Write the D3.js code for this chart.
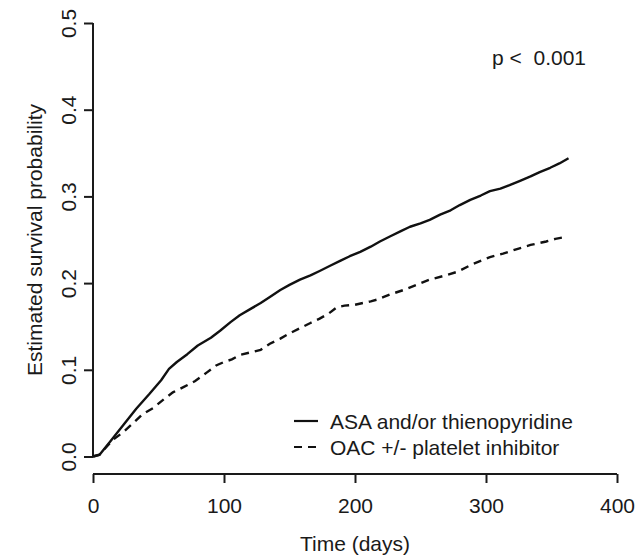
<!DOCTYPE html>
<html>
<head>
<meta charset="utf-8">
<script src="https://cdn.jsdelivr.net/npm/d3@7"></script>
<style>
  body { margin: 0; background: #fff; }
  svg text { font-family: "Liberation Sans", Arial, Helvetica, sans-serif; fill: #1a1a1a; }
</style>
</head>
<body>
<svg id="chart" width="635" height="555"></svg>
<script>
// survival curves (days, probability)
var asaDays = [0, 5, 13, 23, 33, 43, 52, 58, 64, 72, 80, 90, 97, 105, 112, 120, 128, 135, 143, 150,
  158, 166, 173, 181, 189, 196, 204, 212, 219, 227, 235, 242, 250, 257, 265, 273, 280, 288, 296, 303,
  311, 318, 326, 334, 341, 349, 356, 363];
var asaProb = [0, 0.002, 0.017, 0.036, 0.055, 0.072, 0.088, 0.101, 0.109, 0.118, 0.128, 0.137, 0.145, 0.155, 0.163, 0.170, 0.177, 0.184, 0.192, 0.198,
  0.204, 0.209, 0.214, 0.220, 0.226, 0.231, 0.236, 0.242, 0.248, 0.254, 0.260, 0.265, 0.269, 0.273, 0.279, 0.284, 0.290, 0.296, 0.301, 0.306,
  0.309, 0.313, 0.318, 0.323, 0.328, 0.333, 0.338, 0.344];

var oacDays = [0, 5, 9, 15, 23, 31, 38, 46, 54, 61, 69, 78, 87, 94, 100, 106, 112, 120, 128, 135,
  143, 150, 158, 166, 173, 180, 186, 192, 200, 206, 212, 217, 222, 227, 237, 247, 257, 267, 278, 290,
  303, 313, 323, 334, 346, 353, 360];
var oacProb = [0, 0.002, 0.009, 0.019, 0.028, 0.039, 0.049, 0.056, 0.066, 0.074, 0.080, 0.087, 0.097, 0.105, 0.109, 0.112, 0.117, 0.120, 0.123, 0.130,
  0.136, 0.142, 0.148, 0.154, 0.159, 0.165, 0.172, 0.174, 0.175, 0.177, 0.179, 0.181, 0.184, 0.187, 0.192, 0.198, 0.204, 0.208, 0.213, 0.222,
  0.230, 0.234, 0.239, 0.244, 0.248, 0.251, 0.253];

var xTicks = [0, 100, 200, 300, 400];
var yTicks = [0, 0.1, 0.2, 0.3, 0.4, 0.5];
var legendLabels = ["ASA and/or thienopyridine", "OAC +/- platelet inhibitor"];
var pText = "p <\u00a0\u00a00.001";

var svg = d3.select("#chart");
var fontSize = 21;

var x = d3.scaleLinear().domain([0, 400]).range([93, 617]);
var y = d3.scaleLinear().domain([0, 0.5]).range([456.5, 23]);

// x axis sits a bit below y=0 (R style)
var xAxis = d3.axisBottom(x).tickValues(xTicks).tickSize(9).tickPadding(15).tickFormat(d3.format("d"));
var gx = svg.append("g").attr("transform", "translate(0,474)").call(xAxis);
gx.select(".domain").attr("d", "M" + x(0) + ",0H" + x(400));

var yAxis = d3.axisLeft(y).tickValues(yTicks).tickSize(9).tickFormat(d3.format(".1f"));
var gy = svg.append("g").attr("transform", "translate(" + x(0) + ",0)").call(yAxis);
gy.select(".domain").attr("d", "M0," + y(0) + "V" + y(0.5));
gy.selectAll(".tick text")
  .attr("x", null).attr("dy", null)
  .attr("transform", "translate(-25,0) rotate(-90)")
  .attr("text-anchor", "middle")
  .attr("dominant-baseline", "central");

svg.selectAll(".domain, .tick line").attr("stroke", "#1a1a1a").attr("stroke-width", 2);
svg.selectAll(".tick text").attr("font-size", fontSize).attr("fill", "#1a1a1a")
  .style("font-family", '"Liberation Sans", Arial, sans-serif');

// axis titles
svg.append("text").attr("x", 355).attr("y", 543).attr("text-anchor", "middle")
  .attr("dominant-baseline", "central").attr("font-size", fontSize).text("Time (days)");
svg.append("text").attr("transform", "translate(34,240) rotate(-90)").attr("text-anchor", "middle")
  .attr("dominant-baseline", "central").attr("font-size", fontSize).text("Estimated survival probability");

// curves
var line = d3.line().x(function(d) { return x(d[0]); }).y(function(d) { return y(d[1]); });
var asa = d3.zip(asaDays, asaProb);
var oac = d3.zip(oacDays, oacProb);

svg.append("path").datum(asa).attr("d", line)
  .attr("fill", "none").attr("stroke", "#111").attr("stroke-width", 2.4).attr("stroke-linejoin", "round");
svg.append("path").datum(oac).attr("d", line)
  .attr("fill", "none").attr("stroke", "#111").attr("stroke-width", 2.4).attr("stroke-dasharray", "8,6");

// p value
svg.append("text").attr("x", 492).attr("y", 57).attr("dominant-baseline", "central")
  .attr("font-size", fontSize).text(pText);

// legend
var leg = svg.append("g").selectAll("g").data(legendLabels).enter().append("g")
  .attr("transform", function(d, i) { return "translate(0," + (421 + i * 26) + ")"; });
leg.append("line").attr("x1", 294).attr("x2", 318).attr("y1", 0).attr("y2", 0)
  .attr("stroke", "#111").attr("stroke-width", 2.2)
  .attr("stroke-dasharray", function(d, i) { return i == 1 ? "8,6" : null; });
leg.append("text").attr("x", 330).attr("y", 0).attr("dominant-baseline", "central")
  .attr("font-size", fontSize).text(function(d) { return d; });
</script>
</body>
</html>
